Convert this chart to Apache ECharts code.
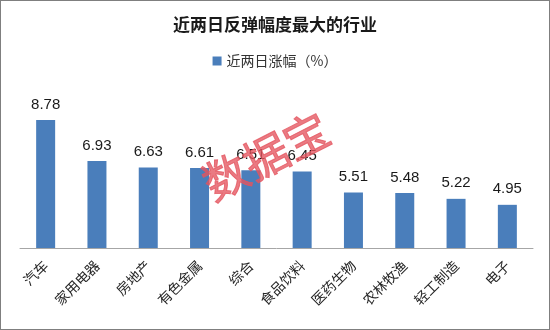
<!DOCTYPE html>
<html><head><meta charset="utf-8">
<script src="https://cdn.jsdelivr.net/npm/echarts@6/dist/echarts.min.js"></script>
<style>html,body{margin:0;padding:0;background:#fff}
#c{width:550px;height:330px;box-sizing:border-box;border:1px solid #7f7f7f}</style>
</head><body><div id="c"></div>
<script>
const categories = ['汽车','家用电器','房地产','有色金属','综合','食品饮料','医药生物','农林牧渔','轻工制造','电子'];
const values = [8.78,6.93,6.63,6.61,6.51,6.45,5.51,5.48,5.22,4.95];
const seriesName = '近两日涨幅（%）';
const titleText = '近两日反弹幅度最大的行业';
const watermark = '数据宝';
const font = '"Microsoft YaHei","Noto Sans CJK SC",sans-serif';
const chart = echarts.init(document.getElementById('c'));
chart.setOption({
  animation:false,
  title:{text:titleText,left:'center',top:10,textStyle:{fontSize:17,fontWeight:'bold',color:'#1a1a1a',fontFamily:font}},
  legend:{data:[seriesName],top:48,left:'center',itemWidth:9,itemHeight:9,itemGap:6,
    textStyle:{fontSize:14,color:'#333',fontFamily:font},icon:'rect'},
  grid:{left:19,right:16,top:92,bottom:81,containLabel:false},
  xAxis:{type:'category',data:categories,
    axisLine:{lineStyle:{color:'#a6a6a6',width:1}},axisTick:{show:false},
    axisLabel:{rotate:45,interval:0,fontSize:14,color:'#262626',fontFamily:font,margin:15}},
  yAxis:{type:'value',min:3,max:10,show:false,splitLine:{show:false}},
  series:[{name:seriesName,type:'bar',data:values,barWidth:19,
    itemStyle:{color:'#4a7ebb'},
    label:{show:true,position:'top',distance:8,fontSize:15,color:'#1a1a1a',fontFamily:'Arial,"Liberation Sans",sans-serif'}}],
  graphic:[{type:'text',x:265,y:155,rotation:Math.PI/180*27,z:100,
    style:{text:watermark,fontSize:45,fontFamily:font,fill:'rgba(228,85,95,0.78)',
      stroke:'rgba(228,85,95,0.78)',lineWidth:1,align:'center',verticalAlign:'middle'}}]
});
</script></body></html>
